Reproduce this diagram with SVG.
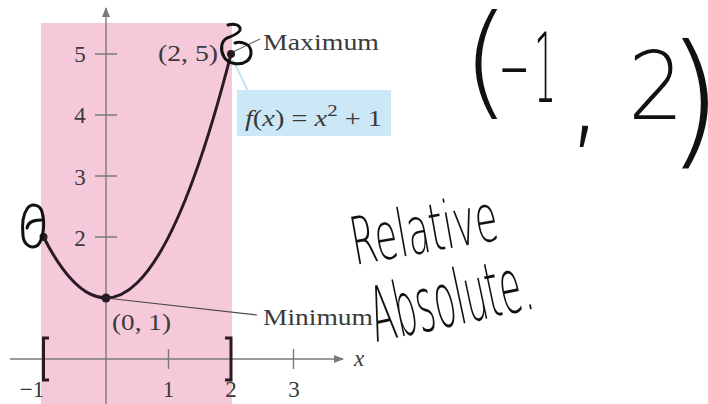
<svg xmlns="http://www.w3.org/2000/svg" width="708" height="404" viewBox="0 0 708 404">
<style>
.ax{stroke:#7a7a7a;stroke-width:1.4;fill:none}
.lbl{font-family:"Liberation Serif",serif;font-size:23px;fill:#3a3a3a}
.hand{stroke:#111;stroke-width:3;fill:none;stroke-linecap:round;stroke-linejoin:round}
.hw{font-family:"DejaVu Sans","Liberation Sans",sans-serif;font-weight:200;fill:#111}
.br{stroke:#2a1a24;stroke-width:3;fill:none}
</style>
<defs>
<marker id="arr" viewBox="0 0 10 10" refX="9" refY="5" markerWidth="18" markerHeight="10" markerUnits="userSpaceOnUse" orient="auto"><path d="M0,1 L10,5 L0,9 Z" fill="#7a7a7a"/></marker>
</defs>
<rect width="708" height="404" fill="#fff"/>
<g id="interval">
<rect x="41" y="23" width="191" height="381" fill="#f6c9da"/>
</g>
<g id="axes">
<line class="ax" x1="106" y1="404" x2="106" y2="8" marker-end="url(#arr)"/>
<line class="ax" x1="10" y1="359" x2="343" y2="359" marker-end="url(#arr)"/>
<path class="ax" d="M95,54H117M95,115H117M95,176H117M95,237H117M168.5,349V369M293.5,349V369"/>
<text class="lbl" x="80" y="62" text-anchor="middle">5</text>
<text class="lbl" x="80" y="123" text-anchor="middle">4</text>
<text class="lbl" x="80" y="185" text-anchor="middle">3</text>
<text class="lbl" x="80" y="246" text-anchor="middle">2</text>
<text class="lbl" x="32" y="397" text-anchor="middle" font-size="22">−1</text>
<text class="lbl" x="168.5" y="397" text-anchor="middle" font-size="22">1</text>
<text class="lbl" x="231" y="397" text-anchor="middle" font-size="22">2</text>
<text class="lbl" x="294" y="397" text-anchor="middle" font-size="22">3</text>
<text class="lbl" x="354" y="366" font-style="italic" font-size="21">x</text>
</g>
<g id="brackets">
<path class="br" d="M49,338H43.5V380H49"/>
<path class="br" d="M225,338H231V380H225"/>
</g>
<g id="connectors">
<line x1="233" y1="60" x2="248" y2="91" stroke="#c4e2f2" stroke-width="2"/>
<line x1="233" y1="52" x2="260" y2="39" stroke="#6a6a6a" stroke-width="1.2"/>
<line x1="106" y1="298" x2="257" y2="315" stroke="#4a4a4a" stroke-width="1.2"/>
</g>
<g id="curve">
<path d="M43.5,237 Q137.25,420 231,54" stroke="#2a1a24" stroke-width="3" fill="none"/>
<circle cx="43.5" cy="237" r="4" fill="#2a1a24"/>
<circle cx="106" cy="298" r="4.5" fill="#2a1a24"/>
<circle cx="231" cy="54" r="4" fill="#2a1a24"/>
</g>
<g id="max-label">
<text class="lbl" x="158" y="61" textLength="60" lengthAdjust="spacingAndGlyphs">(2, 5)</text>
<text class="lbl" x="263" y="50" textLength="116" lengthAdjust="spacingAndGlyphs">Maximum</text>
</g>
<g id="min-label">
<text class="lbl" x="112" y="330" textLength="59" lengthAdjust="spacingAndGlyphs">(0, 1)</text>
<text class="lbl" x="263" y="325" textLength="110" lengthAdjust="spacingAndGlyphs">Minimum</text>
</g>
<g id="function-label">
<rect x="237" y="90" width="154" height="46" fill="#cce8f6"/>
<text class="lbl" x="245" y="126" font-size="25" textLength="137" lengthAdjust="spacingAndGlyphs"><tspan font-style="italic">f</tspan>(<tspan font-style="italic">x</tspan>) = <tspan font-style="italic">x</tspan><tspan dy="-10" font-size="17">2</tspan><tspan dy="10"> + 1</tspan></text>
</g>
<g id="annotations">
<path class="hand" d="M228,25 C234,23 241,25 240,30 C239,34 232,36 227,38 C221,41 220,50 224,57 C228,64 240,66 247,61 C253,56 252,47 246,44 C242,42 238,42 235,43"/>
<path class="hand" d="M27,209 C31,203 40,204 42,212 C45,222 44,238 38,245 C32,250 24,245 23,236 C22,226 22,216 27,209 Z"/>
<path class="hand" d="M27,228 C28,222 33,220 41,220"/>
<text class="hw"><tspan x="462" y="103" font-size="123">(</tspan><tspan x="498" y="95" font-size="90">-</tspan><tspan x="534" y="102" font-size="96" textLength="22" lengthAdjust="spacingAndGlyphs">1</tspan><tspan x="566" y="133" font-size="120">,</tspan><tspan x="628" y="119" font-size="95" textLength="56" lengthAdjust="spacingAndGlyphs">2</tspan><tspan x="666" y="149" font-size="146">)</tspan></text>
<text class="hw" x="355" y="265" font-size="66" textLength="148" lengthAdjust="spacingAndGlyphs" transform="rotate(-10 355 265)">Relative</text>
<text class="hw" x="376" y="342" font-size="76" textLength="164" lengthAdjust="spacingAndGlyphs" transform="rotate(-12 376 342)">Absolute.</text>
</g>
</svg>
